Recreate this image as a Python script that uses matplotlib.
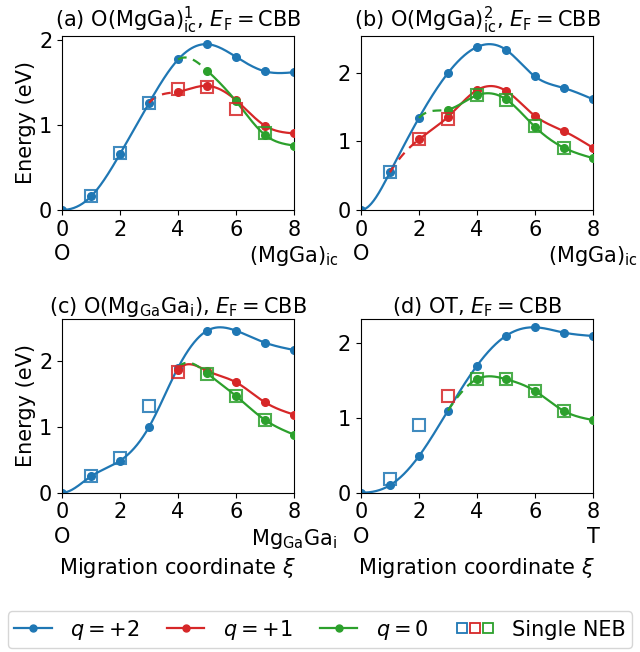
import numpy as np
import matplotlib
matplotlib.use('Agg')
import matplotlib.pyplot as plt
from matplotlib.lines import Line2D
from matplotlib.legend_handler import HandlerTuple

plt.rcParams['font.size'] = 15

xi = np.arange(9)

# q=+2 energies along the path (eV), x = 0..8
blue_a = [0.0, 0.16, 0.66, 1.26, 1.77, 1.95, 1.80, 1.63, 1.62]
blue_b = [0.0, 0.55, 1.345, 2.0, 2.38, 2.34, 1.95, 1.78, 1.617]
blue_c = [0.0, 0.25, 0.486, 1.0, 1.90, 2.46, 2.46, 2.278, 2.167]
blue_d = [0.0, 0.10, 0.49, 1.10, 1.70, 2.10, 2.214, 2.143, 2.098]

# q=+1 and q=0 branches: (first index, values from there to 8, dashed link)
red_a = (4, [1.39, 1.46, 1.29, 0.99, 0.90], True)
red_b = (2, [1.03, 1.36, 1.75, 1.74, 1.374, 1.15, 0.908], True)
red_c = (4, [1.87, 1.85, 1.676, 1.372, 1.185], False)
green_a = (5, [1.64, 1.278, 0.882, 0.757], True)
green_b = (3, [1.466, 1.675, 1.617, 1.214, 0.908, 0.757], True)
green_c = (5, [1.813, 1.468, 1.104, 0.881], True)
green_d = (4, [1.52, 1.52, 1.362, 1.094, 0.973], True)

# single NEB results: x, energy, charge colour
neb_a = [(1, 0.16, 'C0'), (2, 0.67, 'C0'), (3, 1.26, 'C0'),
         (4, 1.42, 'C3'), (5, 1.45, 'C3'), (6, 1.19, 'C3'), (7, 0.90, 'C2')]
neb_b = [(1, 0.56, 'C0'), (2, 1.03, 'C3'), (3, 1.33, 'C3'),
         (4, 1.68, 'C2'), (5, 1.61, 'C2'), (6, 1.22, 'C2'), (7, 0.91, 'C2')]
neb_c = [(1, 0.26, 'C0'), (2, 0.53, 'C0'), (3, 1.31, 'C0'), (4, 1.84, 'C3'),
         (5, 1.81, 'C2'), (6, 1.47, 'C2'), (7, 1.11, 'C2')]
neb_d = [(1, 0.18, 'C0'), (2, 0.91, 'C0'), (3, 1.30, 'C3'),
         (4, 1.52, 'C2'), (5, 1.52, 'C2'), (6, 1.36, 'C2'), (7, 1.09, 'C2')]

titles = [r'(a) O(MgGa)$_\mathrm{ic}^1$, $E_\mathrm{F} = \mathrm{CBB}$',
          r'(b) O(MgGa)$_\mathrm{ic}^2$, $E_\mathrm{F} = \mathrm{CBB}$',
          r'(c) O(Mg$_\mathrm{Ga}$Ga$_\mathrm{i}$), $E_\mathrm{F} = \mathrm{CBB}$',
          r'(d) OT, $E_\mathrm{F} = \mathrm{CBB}$']
end_labels = [r'(MgGa)$_\mathrm{ic}$', r'(MgGa)$_\mathrm{ic}$',
              r'Mg$_\mathrm{Ga}$Ga$_\mathrm{i}$', 'T']


def spline(y, xs):
    # cubic spline on unit spacing, zero slope at start, natural at end
    y = np.asarray(y, float)
    n = len(y) - 1
    A = np.zeros((n + 1, n + 1))
    b = np.zeros(n + 1)
    A[0, 0], A[0, 1] = 2, 1
    b[0] = 6 * (y[1] - y[0])
    for i in range(1, n):
        A[i, i - 1], A[i, i], A[i, i + 1] = 1, 4, 1
        b[i] = 6 * (y[i + 1] - 2 * y[i] + y[i - 1])
    A[n, n] = 1
    M = np.linalg.solve(A, b)
    i = np.clip(np.floor(xs).astype(int), 0, n - 1)
    t = xs - i
    return (M[i] * (1 - t) ** 3 / 6 + M[i + 1] * t ** 3 / 6
            + (y[i] - M[i] / 6) * (1 - t) + (y[i + 1] - M[i + 1] / 6) * t)


fig = plt.figure(figsize=(6.4, 6.52), dpi=100)
pos = [[0.097, 0.678, 0.3625, 0.267], [0.564, 0.678, 0.3625, 0.267],
       [0.097, 0.2443, 0.3625, 0.2664], [0.564, 0.2443, 0.3625, 0.2664]]
blues = [blue_a, blue_b, blue_c, blue_d]
branches = [[('C3', red_a), ('C2', green_a)],
            [('C3', red_b), ('C2', green_b)],
            [('C3', red_c), ('C2', green_c)],
            [('C2', green_d)]]
nebs = [neb_a, neb_b, neb_c, neb_d]

for k in range(4):
    ax = fig.add_axes(pos[k])
    blue = blues[k]
    xf = np.linspace(0, 8, 400)
    ymax = 0
    for col, (s, vals, dash) in branches[k]:
        full = list(blue[:s]) + list(vals)
        xs = np.linspace(s, 8, 300)
        ys = spline(full, xs)
        ymax = max(ymax, ys.max())
        ax.plot(xs, ys, color=col, lw=1.6, zorder=2)
        if dash:
            xd = np.linspace(s - 1, s, 60)
            ax.plot(xd, spline(full, xd), color=col, lw=1.6, ls=(0, (4, 3)), zorder=2)
        ax.plot(xi[s:], vals, 'o', color=col, ms=5.5, zorder=3)
    yb = spline(blue, xf)
    ymax = max(ymax, yb.max())
    ax.plot(xf, yb, color='C0', lw=1.6, zorder=1.5)
    ax.plot(xi, blue, 'o', color='C0', ms=5.5, zorder=1.6)
    for x, y, c in nebs[k]:
        ax.plot(x, y, 's', mfc='none', mec=c, ms=8, mew=1.5, alpha=0.85, zorder=4)
    ax.set_xlim(0, 8)
    ax.set_ylim(0, ymax * 1.05)
    ax.set_xticks([0, 2, 4, 6, 8])
    ax.set_yticks([0, 1, 2])
    ax.set_title(titles[k], fontsize=15, pad=4)
    tr = ax.get_xaxis_transform()
    ax.text(0, -0.195, 'O', transform=tr, ha='center', va='top', fontsize=15)
    ax.text(8, -0.195, end_labels[k], transform=tr, ha='center', va='top', fontsize=15)
    if k % 2 == 0:
        ax.set_ylabel('Energy (eV)', fontsize=15, labelpad=2)
    if k >= 2:
        ax.set_xlabel(r'Migration coordinate $\xi$', fontsize=15, labelpad=24)

handles = [Line2D([], [], color=c, marker='o', ms=5, lw=1.6) for c in ['C0', 'C3', 'C2']]
sq = tuple(Line2D([], [], ls='none', marker='s', mfc='none', mec=c, ms=7, mew=1.3)
           for c in ['C0', 'C3', 'C2'])
handles.append(sq)
labels = [r'$q = +2$', r'$q = +1$', r'$q = 0$', 'Single NEB']
fig.legend(handles, labels, loc='lower center', bbox_to_anchor=(0.5, 0.003), ncol=4,
           fontsize=15, handler_map={tuple: HandlerTuple(ndivide=None, pad=0.1)},
           columnspacing=1.3, handletextpad=0.9, handlelength=1.8,
           borderpad=0.3, borderaxespad=0.1)

fig.savefig('out.png', dpi=100)
